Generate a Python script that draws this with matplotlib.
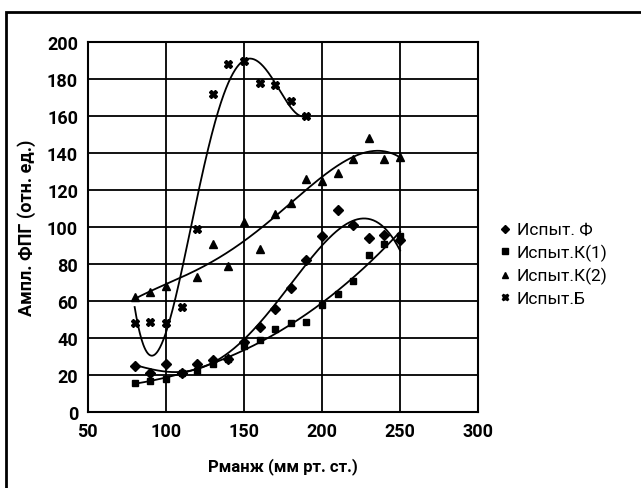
import matplotlib.pyplot as plt
import numpy as np
from matplotlib.patches import Rectangle

# Данные (Рманж, мм рт. ст.)
x_f = [80, 90, 100, 110, 120, 130, 140, 150, 160, 170, 180, 190, 200, 210, 220, 230, 240, 250]
y_f = [25, 21, 26, 21, 26, 28, 29, 38, 46, 56, 67, 82, 95, 109, 101, 94, 96, 93]

x_k1 = [80, 90, 100, 110, 120, 130, 140, 150, 160, 170, 180, 190, 200, 210, 220, 230, 240, 250]
y_k1 = [16, 17, 18, 21, 22, 26, 29, 36, 39, 45, 48, 49, 58, 64, 71, 85, 91, 95]

x_k2 = [80, 90, 100, 120, 130, 140, 150, 160, 170, 180, 190, 200, 210, 220, 230, 240, 250]
y_k2 = [62, 65, 68, 73, 91, 79, 103, 88, 107, 113, 126, 125, 129, 137, 148, 137, 138]

x_b = [80, 90, 100, 110, 120, 130, 140, 150, 160, 170, 180, 190]
y_b = [48, 49, 48, 57, 99, 172, 188, 190, 178, 177, 168, 160]

names = ["Испыт. Ф", "Испыт.К(1)", "Испыт.К(2)", "Испыт.Б"]
markers = ["D", "s", "^", "X"]
msizes = [5, 5, 6, 6]
degrees = [4, 3, 4, 4]

xticks = [50, 100, 150, 200, 250, 300]
yticks = list(range(0, 201, 20))

narrow = ["Liberation Sans Narrow", "Roboto", "DejaVu Sans"]

fig = plt.figure(figsize=(6.41, 4.89), dpi=100)
ax = fig.add_axes([0.137, 0.155, 0.609, 0.757])

series = [(x_f, y_f), (x_k1, y_k1), (x_k2, y_k2), (x_b, y_b)]
for (xs, ys), nm, mk, ms, deg in zip(series, names, markers, msizes, degrees):
    ax.plot(xs, ys, linestyle="none", marker=mk, markersize=ms, color="black", label=nm)
    # полиномиальная линия тренда
    p = np.polyfit(xs, ys, deg)
    xx = np.linspace(min(xs), max(xs), 300)
    ax.plot(xx, np.polyval(p, xx), color="black", linewidth=1.3)

ax.set_xlim(50, 300)
ax.set_ylim(0, 200)
ax.set_xticks(xticks)
ax.set_yticks(yticks)
ax.grid(True, color="black", linewidth=1.3)
ax.tick_params(length=0, pad=7)
for lab in ax.get_xticklabels() + ax.get_yticklabels():
    lab.set_family(narrow)
    lab.set_fontweight("bold")
    lab.set_fontsize(13)
for s in ax.spines.values():
    s.set_linewidth(1.5)

ax.set_xlabel("Рманж (мм рт. ст.)", family=narrow, fontweight="bold", fontsize=12, labelpad=12)
ax.set_ylabel("Ампл. ФПГ (отн. ед.)", family=narrow, fontweight="bold", fontsize=13, labelpad=8)

leg = ax.legend(loc="center left", bbox_to_anchor=(1.01, 0.40), frameon=False,
                prop={"family": narrow, "size": 12.5}, handletextpad=0.3,
                handlelength=0.8, labelspacing=0.35, markerscale=0.8)

# рамка вокруг рисунка
fig.patches.append(Rectangle((6 / 641, -0.1), 1.2, 1.1 - 13 / 489, transform=fig.transFigure,
                             fill=False, edgecolor="black", linewidth=2))

fig.savefig("out.png", dpi=100)
